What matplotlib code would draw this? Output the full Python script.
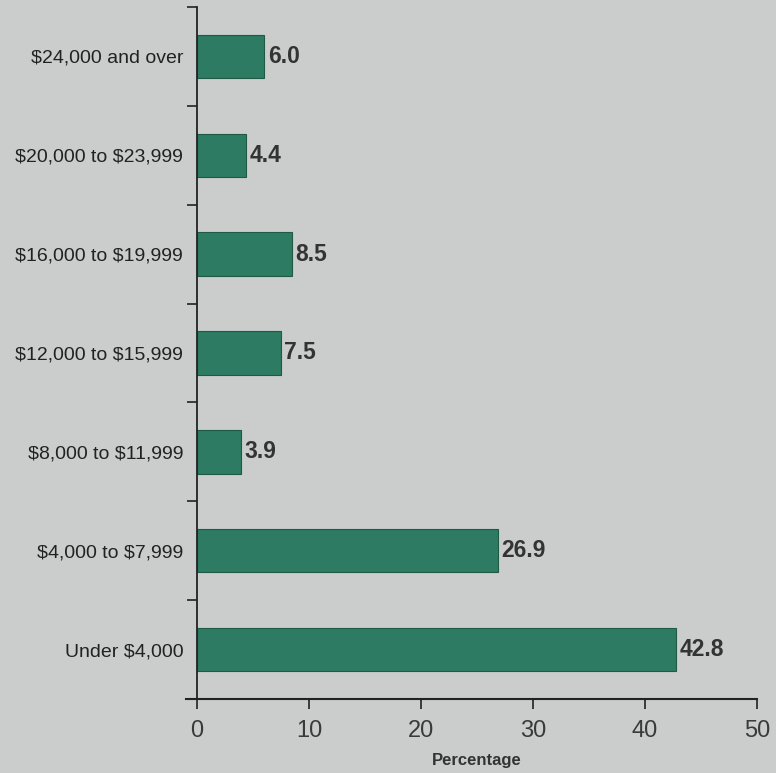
import matplotlib.pyplot as plt
import numpy as np

plt.rcParams['font.family'] = ['Liberation Sans', 'DejaVu Sans']
plt.rcParams['text.parse_math'] = False

# categories from bottom to top
incomes = ["Under $4,000", "$4,000 to $7,999", "$8,000 to $11,999",
           "$12,000 to $15,999", "$16,000 to $19,999", "$20,000 to $23,999",
           "$24,000 and over"]
percents = [42.8, 26.9, 3.9, 7.5, 8.5, 4.4, 6.0]
xticks = [0, 10, 20, 30, 40, 50]

bg = "#cacdcb"
fig = plt.figure(figsize=(7.76, 7.73), dpi=100, facecolor=bg)
ax = fig.add_axes([0.254, 0.0957, 0.7215, 0.8953], facecolor=bg)

ypos = np.arange(len(incomes))
ax.barh(ypos, percents, height=0.44, color="#2c7b62", edgecolor="#1f5a45", linewidth=0.8)

for y, v in zip(ypos, percents):
    ax.text(v + 0.3, y, f"{v:.1f}", va="center", ha="left",
            fontsize=16.5, fontweight="bold", color="#333333")

ax.set_xlim(0, 50)
ax.set_ylim(-0.5, 6.5)
ax.set_xticks(xticks)
ax.set_xticklabels([str(t) for t in xticks], fontsize=17, color="#3a3a3a")
ax.tick_params(axis="x", direction="out", length=7, width=1.2, pad=8, color="#222222")

# category labels centred on bars, ticks on boundaries
ax.set_yticks(np.arange(-0.5, 7, 1))
ax.set_yticklabels([])
ax.set_yticks(ypos, minor=True)
ax.set_yticklabels(incomes, minor=True, fontsize=14, color="#222222")
ax.tick_params(axis="y", which="major", direction="out", length=7, width=1.2, color="#222222")
ax.tick_params(axis="y", which="minor", length=0, pad=10)

for s in ["top", "right"]:
    ax.spines[s].set_visible(False)
ax.spines["left"].set_linewidth(1.3)
ax.spines["bottom"].set_linewidth(1.5)
ax.spines["left"].set_color("#222222")
ax.spines["bottom"].set_color("#222222")
ax.spines["bottom"].set_bounds(-1.0, 50)

ax.set_xlabel("Percentage", fontsize=12, fontweight="bold", color="#333333", labelpad=8)

fig.savefig("out.png", dpi=100, facecolor=bg)
